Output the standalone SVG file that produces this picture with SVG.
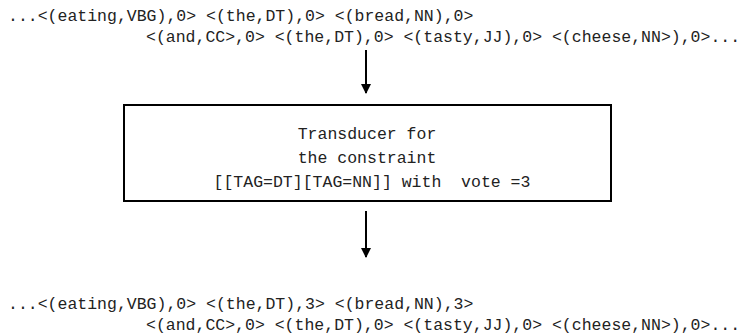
<svg xmlns="http://www.w3.org/2000/svg" width="748" height="334" viewBox="0 0 748 334">
<style>
.t{font-family:"Liberation Mono","Courier New",monospace;font-size:16.5px;fill:#222}
.c{stroke:#000;stroke-width:2;fill:none}
.b{stroke:#000;stroke-width:2;fill:#fff}
</style>
<defs>
<marker id="ah" markerWidth="10" markerHeight="14" refX="9" refY="5" orient="auto" markerUnits="userSpaceOnUse">
<path d="M0,0 L10,5 L0,10 Z" fill="#000"/>
</marker>
</defs>
<g id="input">
<text class="t" x="8" y="21" xml:space="preserve">...&lt;(eating,VBG),0&gt; &lt;(the,DT),0&gt; &lt;(bread,NN),0&gt;</text>
<text class="t" x="146" y="42" xml:space="preserve">&lt;(and,CC&gt;,0&gt; &lt;(the,DT),0&gt; &lt;(tasty,JJ),0&gt; &lt;(cheese,NN&gt;),0&gt;...</text>
</g>
<g id="transducer">
<rect class="b" x="124" y="105" width="487" height="96"/>
<text class="t" x="367" y="139" text-anchor="middle" xml:space="preserve">Transducer for</text>
<text class="t" x="367" y="163" text-anchor="middle" xml:space="preserve">the constraint</text>
<text class="t" x="372" y="187" text-anchor="middle" xml:space="preserve">[[TAG=DT][TAG=NN]] with  vote =3</text>
</g>
<g id="output">
<text class="t" x="8" y="309" xml:space="preserve">...&lt;(eating,VBG),0&gt; &lt;(the,DT),3&gt; &lt;(bread,NN),3&gt;</text>
<text class="t" x="146" y="330" xml:space="preserve">&lt;(and,CC&gt;,0&gt; &lt;(the,DT),0&gt; &lt;(tasty,JJ),0&gt; &lt;(cheese,NN&gt;),0&gt;...</text>
</g>
<g id="connectors">
<line class="c" x1="366" y1="50" x2="366" y2="93" marker-end="url(#ah)"/>
<line class="c" x1="366" y1="211" x2="366" y2="257" marker-end="url(#ah)"/>
</g>
</svg>
